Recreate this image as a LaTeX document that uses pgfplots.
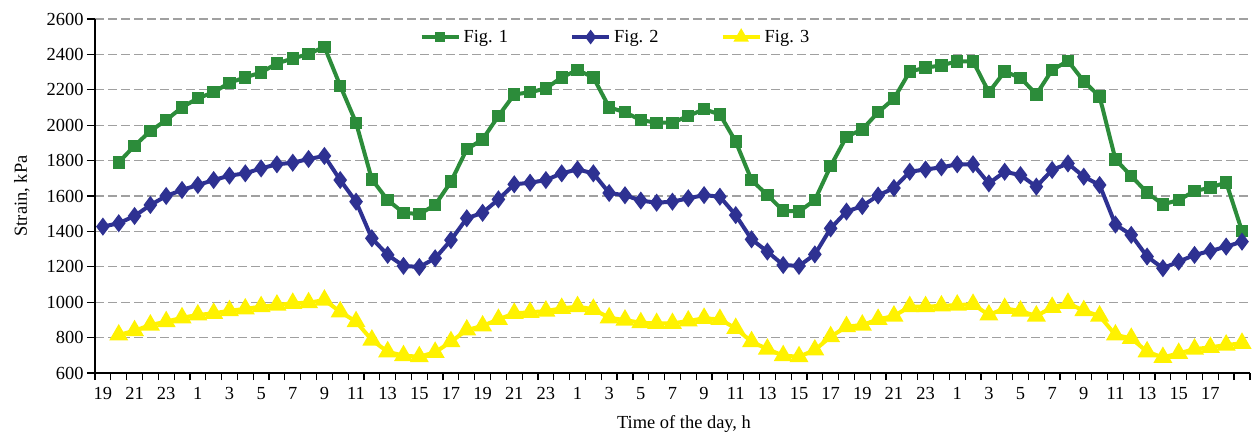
\documentclass[border=0pt]{standalone}
\usepackage{fontspec}
\setmainfont{Liberation Serif}
\usepackage{pgfplots}
\pgfplotsset{compat=1.18}
\definecolor{cgreen}{RGB}{44,140,58}
\definecolor{cblue}{RGB}{46,49,146}
\definecolor{cyellow}{RGB}{255,242,0}
\definecolor{cgrid}{RGB}{160,160,160}
\begin{document}
\begin{tikzpicture}
\begin{axis}[
  at={(95bp,63bp)}, anchor=south west,
  scale only axis, width=1155bp, height=354bp,
  xmin=-0.5, xmax=72.5, ymin=600, ymax=2600,
  axis x line*=bottom, axis y line*=left,
  axis line style={black, line width=1.4bp, -},
  xtick={0,2,...,70},
  xticklabels={19,21,23,1,3,5,7,9,11,13,15,17,19,21,23,1,3,5,7,9,11,13,15,17,19,21,23,1,3,5,7,9,11,13,15,17},
  minor xtick={-0.5,0.5,...,72.5},
  ytick={600,800,...,2600},
  tick align=outside,
  major tick length=8bp,
  minor tick length=7bp,
  major x tick style={draw=none},
  tick style={black, line width=1.2bp},
  ymajorgrids=true,
  major grid style={cgrid, line width=1.1bp, dash pattern=on 9bp off 4bp},
  /pgf/number format/assume math mode=true,
  /pgf/number format/1000 sep={},
  tick label style={font=\fontsize{18.5}{20}\selectfont},
  xticklabel style={yshift=-3bp},
  label style={font=\fontsize{18.5}{20}\selectfont},
  xlabel={Time of the day, h},
  ylabel={Strain, kPa},
  xlabel style={at={(axis description cs:0.51,-0.143)}, anchor=center},
  ylabel style={at={(axis description cs:-0.0632,0.5)}, anchor=center},
  legend columns=3,
  legend style={at={(axis description cs:0.4506,0.949)}, anchor=center, draw=none, fill=none,
    font=\fontsize{18.5}{20}\selectfont,
    /tikz/every odd column/.append style={column sep=1bp},
    /tikz/every even column/.append style={column sep=60bp}},
  legend image code/.code={\draw[mark repeat=2,mark phase=2,mark options={scale=0.7}] plot coordinates {(0bp,0bp) (18.5bp,0bp) (37bp,0bp)};},
]
\addplot[cgreen, line width=4bp, mark=square*, mark size=4.2bp, mark options={solid}] coordinates {
(1,1790)(2,1884)(3,1967)(4,2029)(5,2101)(6,2152)(7,2186)(8,2240)(9,2270)(10,2298)
(11,2349)(12,2377)(13,2402)(14,2443)(15,2223)(16,2014)(17,1694)(18,1577)(19,1505)(20,1498)
(21,1549)(22,1681)(23,1864)(24,1920)(25,2052)(26,2174)(27,2186)(28,2208)(29,2270)(30,2312)
(31,2270)(32,2101)(33,2073)(34,2029)(35,2014)(36,2014)(37,2052)(38,2090)(39,2061)(40,1907)
(41,1690)(42,1605)(43,1517)(44,1512)(45,1577)(46,1769)(47,1935)(48,1976)(49,2073)(50,2150)
(51,2303)(52,2325)(53,2338)(54,2361)(55,2361)(56,2186)(57,2303)(58,2268)(59,2174)(60,2312)
(61,2363)(62,2248)(63,2162)(64,1807)(65,1713)(66,1619)(67,1553)(68,1577)(69,1628)(70,1647)
(71,1677)(72,1402)};
\addlegendentry{Fig. 1}
\addplot[cblue, line width=4bp, mark=diamond*, mark size=5.8bp, mark options={solid}] coordinates {
(0,1427)(1,1446)(2,1487)(3,1549)(4,1600)(5,1634)(6,1662)(7,1690)(8,1715)(9,1728)(10,1756)
(11,1779)(12,1788)(13,1809)(14,1826)(15,1690)(16,1568)(17,1361)(18,1267)(19,1205)(20,1199)
(21,1248)(22,1351)(23,1474)(24,1505)(25,1581)(26,1666)(27,1675)(28,1690)(29,1728)(30,1750)
(31,1728)(32,1617)(33,1604)(34,1574)(35,1562)(36,1568)(37,1587)(38,1605)(39,1596)(40,1492)
(41,1355)(42,1286)(43,1210)(44,1205)(45,1270)(46,1417)(47,1512)(48,1543)(49,1603)(50,1645)
(51,1737)(52,1750)(53,1762)(54,1779)(55,1779)(56,1671)(57,1737)(58,1718)(59,1653)(60,1747)
(61,1784)(62,1709)(63,1662)(64,1439)(65,1380)(66,1258)(67,1192)(68,1229)(69,1267)(70,1289)
(71,1314)(72,1342)};
\addlegendentry{Fig. 2}
\addplot[cyellow, line width=4bp, mark=triangle*, mark size=7bp, mark options={solid}] coordinates {
(1,815)(2,839)(3,871)(4,890)(5,912)(6,928)(7,937)(8,952)(9,962)(10,975)
(11,984)(12,994)(13,997)(14,1012)(15,946)(16,890)(17,786)(18,720)(19,698)(20,692)
(21,717)(22,777)(23,843)(24,866)(25,903)(26,937)(27,943)(28,950)(29,965)(30,975)
(31,960)(32,912)(33,899)(34,884)(35,880)(36,880)(37,894)(38,909)(39,903)(40,852)
(41,777)(42,735)(43,698)(44,692)(45,730)(46,805)(47,862)(48,871)(49,903)(50,922)
(51,975)(52,975)(53,979)(54,984)(55,988)(56,928)(57,965)(58,950)(59,922)(60,971)
(61,994)(62,952)(63,922)(64,815)(65,796)(66,720)(67,688)(68,711)(69,735)(70,745)
(71,758)(72,768)};
\addlegendentry{Fig. 3}
\end{axis}
\pgfresetboundingbox
\path (0,0) rectangle (1258bp,436bp);
\end{tikzpicture}
\end{document}
